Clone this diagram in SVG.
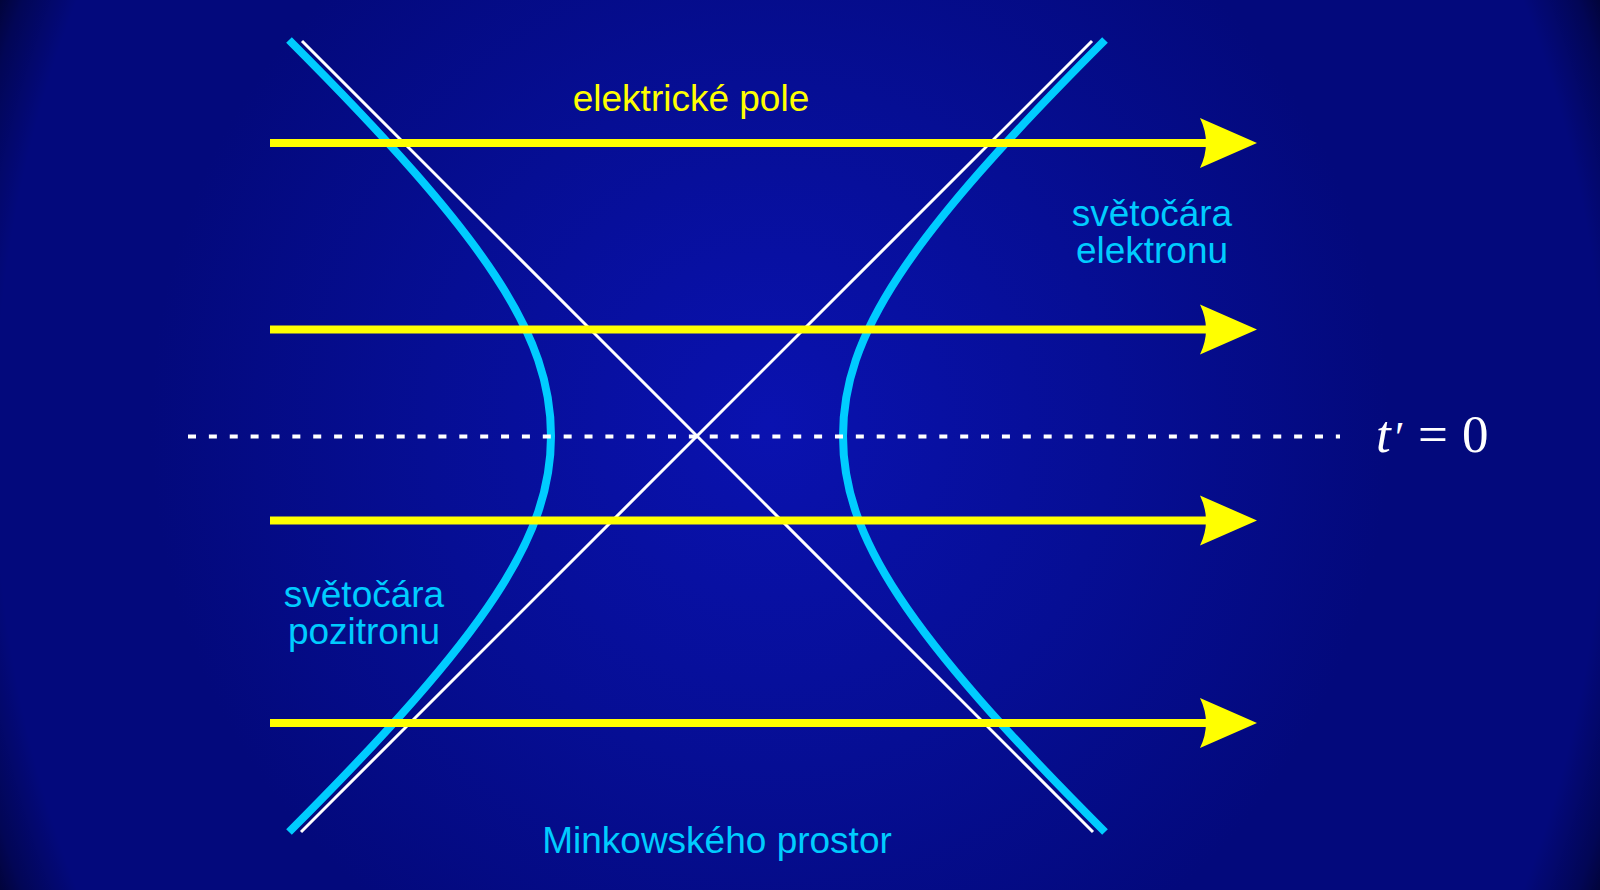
<svg xmlns="http://www.w3.org/2000/svg" xmlns:xlink="http://www.w3.org/1999/xlink" width="1600" height="890" viewBox="0 0 1600 890">
  <defs>
    <radialGradient id="glow" gradientUnits="userSpaceOnUse" cx="770" cy="425" r="620">
      <stop offset="0" stop-color="#0a12b0"/>
      <stop offset="0.55" stop-color="#060e94"/>
      <stop offset="1" stop-color="#03097c"/>
    </radialGradient>
    <radialGradient id="vignette" gradientUnits="userSpaceOnUse" cx="800" cy="445" r="900" gradientTransform="translate(800 445) scale(1 1.25) translate(-800 -445)">
      <stop offset="0" stop-color="#000010" stop-opacity="0"/>
      <stop offset="0.895" stop-color="#000010" stop-opacity="0"/>
      <stop offset="0.95" stop-color="#000010" stop-opacity="0.35"/>
      <stop offset="1" stop-color="#000010" stop-opacity="0.9"/>
    </radialGradient>
    <path id="head" d="M57,0 L0,-25 Q12,0 0,25 Z"/>
    <style>
      .lbl { font-family: "Liberation Sans", Arial, sans-serif; font-size: 37px; text-anchor: middle; }
      .cyan { fill: #00ccff; }
      .yel { fill: #ffff00; }
      .field { stroke: #ffff00; stroke-width: 8; fill: none; }
      .ahead { fill: #ffff00; }
      .cone { stroke: #ffffff; stroke-width: 3; fill: none; }
      .world { stroke: #00ccff; stroke-width: 8; fill: none; }
      .dash { stroke: #ffffff; stroke-width: 4; stroke-dasharray: 8 12.87; fill: none; }
      .math { font-family: "Liberation Serif", "Times New Roman", "DejaVu Serif", serif; font-size: 53px; fill: #ffffff; }
    </style>
  </defs>

  <rect width="1600" height="890" fill="url(#glow)"/>
  <rect width="1600" height="890" fill="url(#vignette)"/>

  <g id="light-cone">
    <line class="cone" x1="302" y1="41" x2="1093" y2="832"/>
    <line class="cone" x1="301" y1="832" x2="1092" y2="41"/>
  </g>

  <g id="worldline-positron">
    <path class="world" d="M289,40 C489,240 551,336 551,436 C551,536 489,632 289,832"/>
  </g>
  <g id="worldline-electron">
    <path class="world" d="M1105,40 C905,240 843,336 843,436 C843,536 905,632 1105,832"/>
  </g>

  <g id="t-zero-line">
    <line class="dash" x1="188" y1="436.5" x2="1340" y2="436.5"/>
  </g>

  <g id="connectors">
    <g id="field-1">
      <line class="field" x1="270" y1="143" x2="1207" y2="143"/>
      <use xlink:href="#head" class="ahead" transform="translate(1200 143)"/>
    </g>
    <g id="field-2">
      <line class="field" x1="270" y1="329.5" x2="1207" y2="329.5"/>
      <use xlink:href="#head" class="ahead" transform="translate(1200 329.5)"/>
    </g>
    <g id="field-3">
      <line class="field" x1="270" y1="520.5" x2="1207" y2="520.5"/>
      <use xlink:href="#head" class="ahead" transform="translate(1200 520.5)"/>
    </g>
    <g id="field-4">
      <line class="field" x1="270" y1="723" x2="1207" y2="723"/>
      <use xlink:href="#head" class="ahead" transform="translate(1200 723)"/>
    </g>
  </g>

  <g id="label-field">
    <text class="lbl yel" x="691" y="111">elektrické pole</text>
  </g>
  <g id="label-electron">
    <text class="lbl cyan" x="1152" y="226">světočára</text>
    <text class="lbl cyan" x="1152" y="263">elektronu</text>
  </g>
  <g id="label-positron">
    <text class="lbl cyan" x="364" y="607">světočára</text>
    <text class="lbl cyan" x="364" y="643.5">pozitronu</text>
  </g>
  <g id="label-minkowski">
    <text class="lbl cyan" x="717" y="853">Minkowského prostor</text>
  </g>
  <g id="label-t0">
    <text class="math" y="452"><tspan x="1376" font-style="italic">t</tspan><tspan x="1395" font-size="44">′</tspan><tspan x="1418">=</tspan><tspan x="1462">0</tspan></text>
  </g>
</svg>
